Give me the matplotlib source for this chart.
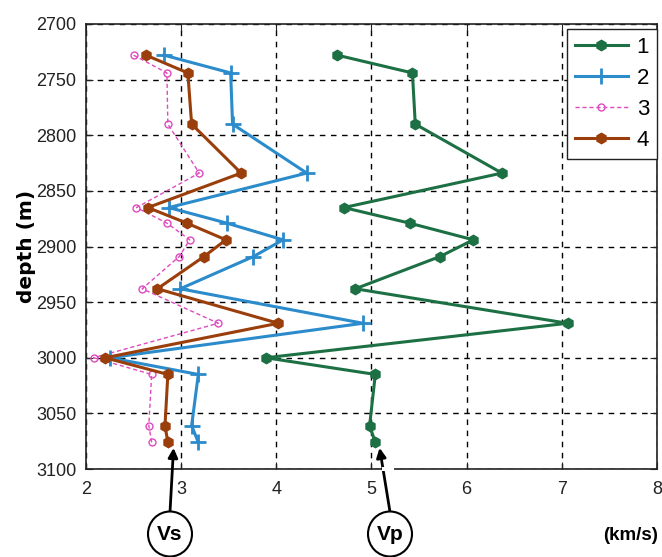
import matplotlib
matplotlib.use("Agg")
import matplotlib.pyplot as plt
from matplotlib import font_manager
from matplotlib.patches import Ellipse, Rectangle

available = {f.name for f in font_manager.fontManager.ttflist}
narrow = 'Liberation Sans Narrow' if 'Liberation Sans Narrow' in available else 'Liberation Sans'
plt.rcParams['font.family'] = ['Liberation Sans', 'DejaVu Sans']

# Depth samples (m) shared by all logs
depth = [2728, 2744, 2790, 2834, 2865, 2879, 2894, 2909, 2938, 2969, 3000, 3015, 3061, 3076]

# Velocity logs (km/s)
vel_1 = [4.64, 5.43, 5.46, 6.37, 4.71, 5.40, 6.07, 5.72, 4.83, 7.06, 3.89, 5.04, 4.98, 5.04]
vel_2 = [2.82, 3.52, 3.54, 4.32, 2.87, 3.48, 4.07, 3.76, 2.99, 4.91, 2.25, 3.18, 3.11, 3.18]
vel_3 = [2.50, 2.85, 2.86, 3.19, 2.53, 2.85, 3.09, 2.98, 2.59, 3.39, 2.08, 2.69, 2.66, 2.69]
vel_4 = [2.63, 3.07, 3.11, 3.63, 2.65, 3.06, 3.47, 3.24, 2.75, 4.02, 2.20, 2.86, 2.83, 2.86]

series_labels = ['1', '2', '3', '4']
x_ticks = [2, 3, 4, 5, 6, 7, 8]
y_ticks = [2700, 2750, 2800, 2850, 2900, 2950, 3000, 3050, 3100]

W, H = 662, 557
fig = plt.figure(figsize=(W / 100, H / 100), dpi=100)
ax = fig.add_axes([86 / W, 1 - 469 / H, (657 - 86) / W, (469 - 24) / H])

green = '#1d7044'
blue = '#2b8bcb'
magenta = '#e04ac0'
brown = '#9a3e0c'

ax.plot(vel_1, depth, color=green, lw=2.2, marker='h', ms=7.5, label=series_labels[0], zorder=4)
ax.plot(vel_2, depth, color=blue, lw=2.2, marker='+', ms=12, mew=2, label=series_labels[1], zorder=3)
ax.plot(vel_3, depth, color=magenta, lw=1.0, ls=(0, (3, 2)), marker='o', ms=5,
        mfc='none', mew=1.0, label=series_labels[2], zorder=2)
ax.plot(vel_4, depth, color=brown, lw=2.2, marker='h', ms=7.5, label=series_labels[3], zorder=4)

ax.set_xlim(2, 8)
ax.set_ylim(3100, 2700)
ax.set_xticks(x_ticks)
ax.set_yticks(y_ticks)
ax.set_xticklabels([str(v) for v in x_ticks], fontfamily=narrow)
ax.set_yticklabels([str(v) for v in y_ticks], fontfamily=narrow)
ax.tick_params(direction='in', length=5, width=0.8, labelsize=13,
               top=True, right=True, colors='#222222', labelcolor='#222222')
ax.tick_params(axis='x', pad=9)
ax.tick_params(axis='y', pad=7)
ax.grid(True, color='black', ls=(0, (4, 4)), lw=1.0)
for s in ax.spines.values():
    s.set_linewidth(1.2)
    s.set_color('#222222')

ax.set_ylabel('depth (m)', fontsize=14.5, fontweight='bold', fontfamily='DejaVu Sans',
              labelpad=0)

leg = ax.legend(loc='upper right', bbox_to_anchor=(1.0, 1 - 5 / 445),
                prop={'family': narrow, 'size': 16}, handlelength=2.4, borderpad=0.35,
                labelspacing=0.45, handletextpad=0.4, fancybox=False,
                framealpha=1, edgecolor='#222222', borderaxespad=0.0)
leg.get_frame().set_linewidth(1.0)

# Small gap in the bottom frame where the Vp pointer crosses it
fig.add_artist(Rectangle((382 / W, 1 - 471 / H), 12 / W, 4 / H, transform=fig.transFigure,
                         facecolor='white', edgecolor='none', zorder=10))

# Circled labels with pointers to the deepest samples
for text, cx, tip_x in [('Vs', 170, 2.92), ('Vp', 390, 5.085)]:
    fig.add_artist(Ellipse((cx / W, 1 - 534 / H), 44 / W, 45 / H, transform=fig.transFigure,
                           facecolor='white', edgecolor='black', lw=1.5, zorder=11))
    fig.text(cx / W, 1 - 535 / H, text, ha='center', va='center', fontsize=15,
             fontweight='bold', fontfamily=narrow, zorder=12)
    ax.annotate('', xy=(tip_x, 3081), xycoords='data',
                xytext=(cx / W, 1 - 512 / H), textcoords='figure fraction',
                arrowprops=dict(arrowstyle='-|>', color='black', lw=2.0,
                                mutation_scale=14, shrinkA=0, shrinkB=0),
                annotation_clip=False, zorder=12)

fig.text(631 / W, 1 - 536 / H, '(km/s)', ha='center', va='center', fontsize=13.5,
         fontweight='bold')

fig.savefig('out.png', dpi=100)
